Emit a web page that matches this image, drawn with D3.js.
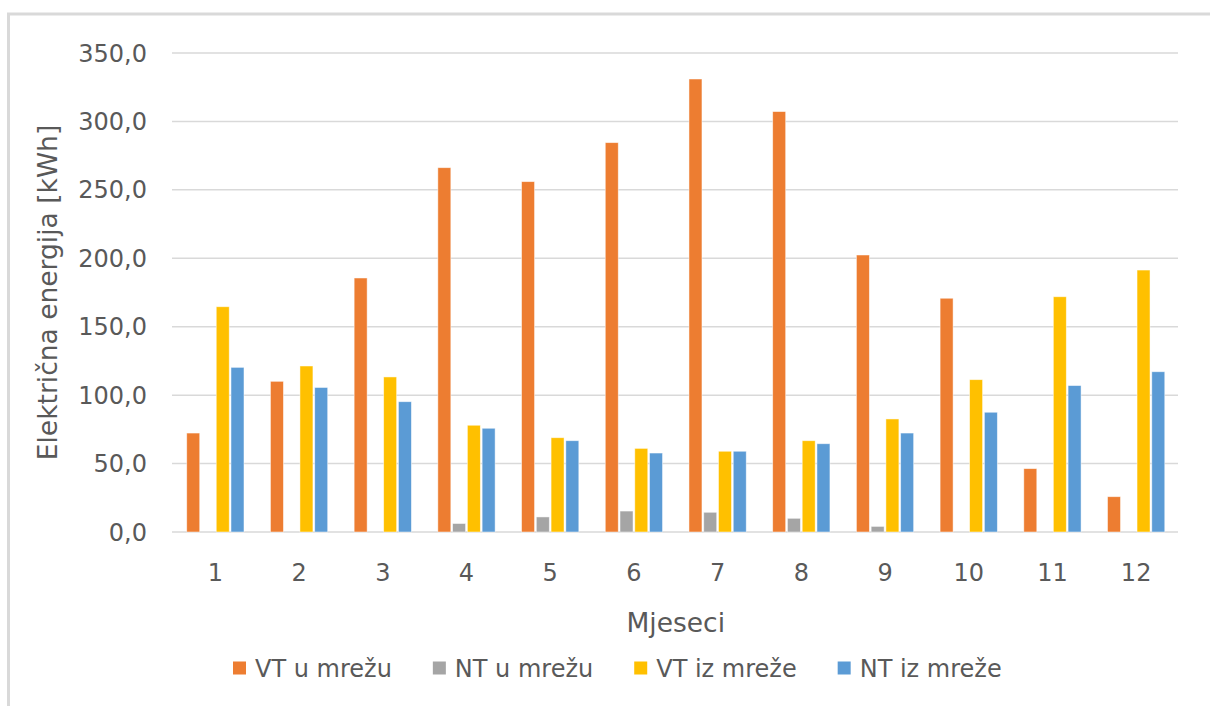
<!DOCTYPE html>
<html>
<head>
<meta charset="utf-8">
<script src="https://cdn.jsdelivr.net/npm/d3@7"></script>
<style>
  body { margin: 0; background: #fff; }
  svg { display: block; font-family: 'DejaVu Sans', sans-serif; }
  .tick-label { fill: #595959; font-size: 24px; }
  .title { fill: #595959; font-size: 26.5px; }
</style>
</head>
<body>
<script>
// Mjeseci 1..12
const months = [ '1', '2', '3', '4', '5', '6', '7', '8', '9', '10', '11', '12' ]

const seriesNames = [ 'VT u mrežu', 'NT u mrežu', 'VT iz mreže', 'NT iz mreže' ]
const seriesColors = [ '#ED7D31', '#A5A5A5', '#FFC000', '#5B9BD5' ]

const vtUMrezu = [ 72.3, 110.1, 185.6, 266.2, 256.0, 284.5, 331.0, 307.2, 202.4, 170.8, 46.3, 25.8 ]
const ntUMrezu = [ 0, 0, 0, 6.2, 11.0, 15.3, 14.4, 10.0, 4.1, 0, 0, 0 ]
const vtIzMreze = [ 164.6, 121.3, 113.3, 78.0, 68.9, 61.1, 59.0, 66.7, 82.6, 111.3, 171.9, 191.4 ]
const ntIzMreze = [ 120.3, 105.6, 95.2, 75.8, 66.7, 57.7, 59.0, 64.5, 72.3, 87.5, 107.0, 117.1 ]

const yTicks = [ 0, 50, 100, 150, 200, 250, 300, 350 ]

const width = 1210,
	height = 706,
	plot = { left: 173.5, right: 1178, top: 53, bottom: 532 }

const allSeries = [ vtUMrezu, ntUMrezu, vtIzMreze, ntIzMreze ]

const svg = d3.select( 'body' )
	.append( 'svg' )
	.attr( 'width', width )
	.attr( 'height', height )

// Rand van de chart (alleen links en boven zichtbaar)
svg.append( 'path' )
	.attr( 'd', `M8.5,${ height } V14 H${ width }` )
	.attr( 'fill', 'none' )
	.attr( 'stroke', '#D9D9D9' )
	.attr( 'stroke-width', 3 )

const x = d3.scaleBand()
	.domain( months )
	.range( [ plot.left, plot.right ] )
	.paddingInner( 0.316 )
	.paddingOuter( 0.158 )

const xInner = d3.scaleBand()
	.domain( d3.range( seriesNames.length ) )
	.range( [ 0, x.bandwidth() ] )
	.paddingInner( 0.12 )

const y = d3.scaleLinear()
	.domain( [ 0, 350 ] )
	.range( [ plot.bottom, plot.top ] )

const fmt = d => d3.format( '.1f' )( d ).replace( '.', ',' )

// Gridlijnen
svg.append( 'g' )
	.selectAll( 'line' )
	.data( yTicks )
	.enter()
	.append( 'line' )
	.attr( 'x1', 172 )
	.attr( 'x2', plot.right )
	.attr( 'y1', d => y( d ) )
	.attr( 'y2', d => y( d ) )
	.attr( 'stroke', '#D9D9D9' )
	.attr( 'stroke-width', 1.5 )

// Y labels
svg.append( 'g' )
	.selectAll( 'text' )
	.data( yTicks )
	.enter()
	.append( 'text' )
	.attr( 'class', 'tick-label' )
	.attr( 'x', 147 )
	.attr( 'y', d => y( d ) )
	.attr( 'dy', '0.36em' )
	.attr( 'text-anchor', 'end' )
	.text( fmt )

// Bars
const groups = svg.append( 'g' )
	.selectAll( 'g' )
	.data( months )
	.enter()
	.append( 'g' )
	.attr( 'transform', d => `translate( ${ x( d ) }, 0 )` )

groups.selectAll( 'rect' )
	.data( ( m, i ) => allSeries.map( ( s, j ) => ( { j, value: s[ i ] } ) ) )
	.enter()
	.filter( d => d.value > 0 )
	.append( 'rect' )
	.attr( 'x', d => xInner( d.j ) )
	.attr( 'width', xInner.bandwidth() )
	.attr( 'y', d => y( d.value ) )
	.attr( 'height', d => y( 0 ) - y( d.value ) )
	.attr( 'fill', d => seriesColors[ d.j ] )
	.attr( 'stroke', '#fff' )
	.attr( 'stroke-opacity', 0.6 )
	.attr( 'stroke-width', 0.8 )

// X labels
svg.append( 'g' )
	.selectAll( 'text' )
	.data( months )
	.enter()
	.append( 'text' )
	.attr( 'class', 'tick-label' )
	.attr( 'x', d => x( d ) + x.bandwidth() / 2 )
	.attr( 'y', 572 )
	.attr( 'dy', '0.36em' )
	.attr( 'text-anchor', 'middle' )
	.text( d => d )

// As titels
svg.append( 'text' )
	.attr( 'class', 'title' )
	.attr( 'x', ( plot.left + plot.right ) / 2 )
	.attr( 'y', 622 )
	.attr( 'dy', '0.36em' )
	.attr( 'text-anchor', 'middle' )
	.text( 'Mjeseci' )

svg.append( 'text' )
	.attr( 'class', 'title' )
	.attr( 'transform', `translate( 47, ${ ( plot.top + plot.bottom ) / 2 } ) rotate( -90 )` )
	.attr( 'dy', '0.36em' )
	.attr( 'text-anchor', 'middle' )
	.text( 'Električna energija [kWh]' )

// Legenda
const legend = svg.append( 'g' )
let lx = 233
seriesNames.forEach( ( name, i ) => {
	const item = legend.append( 'g' ).attr( 'transform', `translate( ${ lx }, 668 )` )
	item.append( 'rect' )
		.attr( 'x', 0 )
		.attr( 'y', -6.5 )
		.attr( 'width', 13 )
		.attr( 'height', 13 )
		.attr( 'fill', seriesColors[ i ] )
	const t = item.append( 'text' )
		.attr( 'class', 'tick-label' )
		.attr( 'x', 22 )
		.attr( 'dy', '0.36em' )
		.text( name )
	lx += 22 + t.node().getComputedTextLength() + 41
})
</script>
</body>
</html>
